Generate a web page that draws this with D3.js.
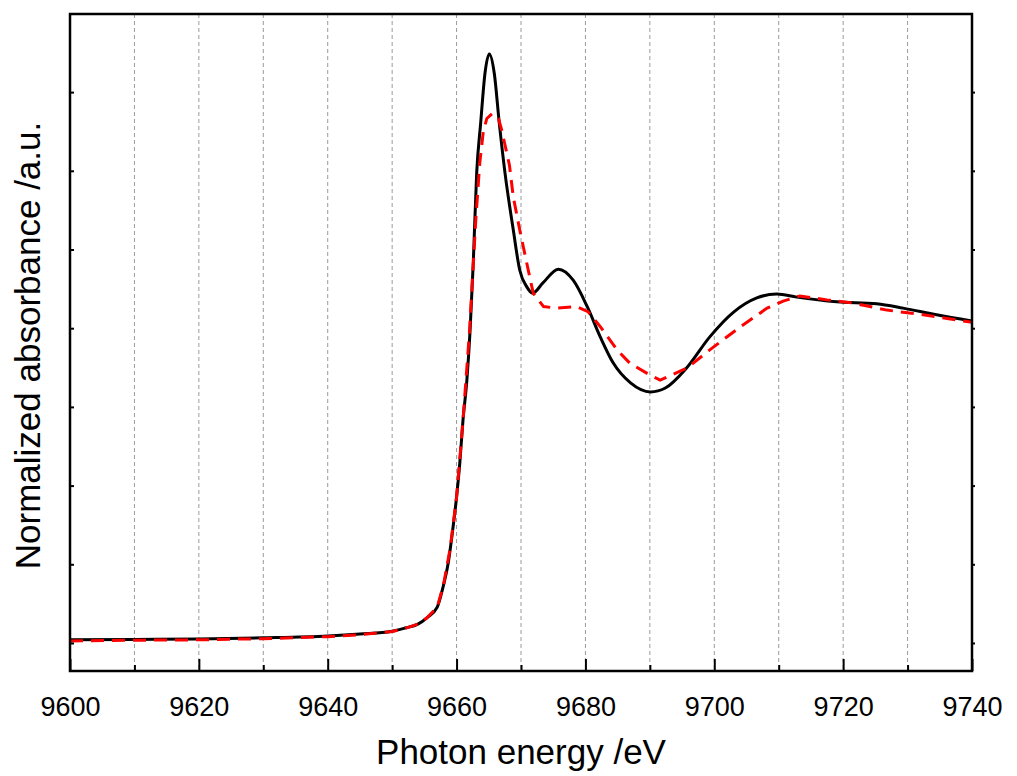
<!DOCTYPE html>
<html>
<head>
<meta charset="utf-8">
<script src="https://cdn.jsdelivr.net/npm/d3@7"></script>
<style>
html,body{margin:0;padding:0;background:#fff;}
svg{display:block;}
text{font-family:"Liberation Sans",Arial,sans-serif;fill:#000;}
</style>
</head>
<body>
<svg id="c" width="1017" height="776"></svg>
<script>
// Photon energy (eV) and normalized absorbance, black solid spectrum
const blackE = [9600,9610,9620,9630,9640,9645,9650,9652,9654,9655.4,9657,9657.9,9658.7,9659.4,9660,9660.5,9661,9661.6,9662.1,9662.6,9663.12,9663.74,9664.41,9665.08,9665.85,9666.63,9667.52,9668.8,9669.8,9670.9,9671.8,9673.4,9675.8,9678.1,9680.3,9682.3,9684.3,9687,9690.1,9692.4,9695.7,9699.3,9703,9706.6,9709.7,9712.8,9719,9725.2,9729.3,9734.5,9740];
const blackV = [0.008,0.009,0.010,0.013,0.018,0.023,0.030,0.038,0.048,0.064,0.091,0.142,0.203,0.287,0.371,0.457,0.567,0.668,0.795,0.97,1.194,1.321,1.448,1.497,1.448,1.321,1.194,1.05,0.948,0.905,0.889,0.915,0.950,0.922,0.854,0.778,0.712,0.661,0.638,0.648,0.699,0.778,0.841,0.877,0.887,0.879,0.867,0.862,0.851,0.834,0.818];
// red dashed spectrum
const redE = [9600,9610,9620,9630,9640,9645,9650,9652,9654,9655.4,9657,9658,9659,9660,9661,9662,9663,9663.6,9664.15,9664.7,9665.5,9666.5,9667,9668.2,9668.8,9669.8,9670.9,9671.9,9673.5,9675.5,9678.6,9680.4,9682.3,9684.9,9686.9,9690,9691.6,9695.8,9699.3,9704,9708.2,9710.7,9713.3,9717.5,9721.5,9726.8,9732.4,9740];
const redV = [0.005,0.007,0.008,0.011,0.016,0.021,0.029,0.037,0.048,0.064,0.091,0.15,0.24,0.37,0.567,0.79,1.08,1.22,1.30,1.333,1.345,1.333,1.304,1.215,1.134,1.05,0.965,0.889,0.855,0.851,0.855,0.842,0.804,0.745,0.711,0.681,0.668,0.699,0.745,0.803,0.851,0.869,0.882,0.872,0.864,0.846,0.834,0.815];
const xMajorTicks = [9600,9620,9640,9660,9680,9700,9720,9740];
const xMinorTicks = [9610,9630,9650,9670,9690,9710,9730];
const yTicks = [0,0.2,0.4,0.6,0.8,1.0,1.2,1.4];

const L=70, R=972, T=14, B=671;
const svg = d3.select("#c");
const x = d3.scaleLinear().domain([9600,9740]).range([L,R]);
const y = d3.scaleLinear().domain([-0.0712,1.5985]).range([B,T]);

// grid
svg.append("g").selectAll("line").data(xMinorTicks.concat(xMajorTicks.filter(d=>d>9600&&d<9740)))
  .join("line")
  .attr("x1",d=>x(d)).attr("x2",d=>x(d)).attr("y1",T).attr("y2",B)
  .attr("stroke","#9a9a9a").attr("stroke-width",1).attr("stroke-dasharray","4,3");

const black = blackE.map((e,i)=>[e,blackV[i]]);
const red = redE.map((e,i)=>[e,redV[i]]);

svg.append("path").datum(black)
  .attr("d", d3.line().x(d=>x(d[0])).y(d=>y(d[1])).curve(d3.curveMonotoneX))
  .attr("fill","none").attr("stroke","#000").attr("stroke-width",3).attr("stroke-linejoin","round");
svg.append("path").datum(red)
  .attr("d", d3.line().x(d=>x(d[0])).y(d=>y(d[1])).curve(d3.curveLinear))
  .attr("fill","none").attr("stroke","#ff0000").attr("stroke-width",3).attr("stroke-dasharray","13,8");

// bottom axis (inner ticks)
const xAxisMajor = d3.axisBottom(x).tickValues(xMajorTicks).tickSizeInner(-12).tickSizeOuter(0).tickPadding(26).tickFormat(d3.format("d"));
const gx = svg.append("g").attr("transform",`translate(0,${B})`).call(xAxisMajor);
gx.select(".domain").remove();
gx.selectAll("line").attr("stroke","#000").attr("stroke-width",2);
gx.selectAll("text").attr("font-size",27).attr("font-family","'Liberation Sans',Arial,sans-serif");
const xAxisMinor = d3.axisBottom(x).tickValues(xMinorTicks).tickSizeInner(-6).tickSizeOuter(0).tickFormat("");
const gxm = svg.append("g").attr("transform",`translate(0,${B})`).call(xAxisMinor);
gxm.select(".domain").remove();
gxm.selectAll("line").attr("stroke","#000").attr("stroke-width",2);

// left axis: inner ticks, no labels
const gy = svg.append("g").attr("transform",`translate(${L},0)`)
  .call(d3.axisLeft(y).tickValues(yTicks).tickSizeInner(-4).tickSizeOuter(0).tickFormat(""));
gy.select(".domain").remove();
gy.selectAll("line").attr("stroke","#000").attr("stroke-width",2);
// right axis: small outer ticks
const gyr = svg.append("g").attr("transform",`translate(${R},0)`)
  .call(d3.axisRight(y).tickValues(yTicks).tickSizeInner(3).tickSizeOuter(0).tickFormat(""));
gyr.select(".domain").remove();
gyr.selectAll("line").attr("stroke","#000").attr("stroke-width",2);

// frame
svg.append("rect").attr("x",L).attr("y",T).attr("width",R-L).attr("height",B-T)
  .attr("fill","none").attr("stroke","#000").attr("stroke-width",2.5);

// titles
svg.append("text").attr("x",(L+R)/2).attr("y",764).attr("text-anchor","middle")
  .attr("font-size",35).text("Photon energy /eV");
svg.append("text").attr("transform",`translate(40,${(T+B)/2+3}) rotate(-90)`).attr("text-anchor","middle")
  .attr("font-size",35).text("Normalized absorbance /a.u.");
</script>
</body>
</html>
